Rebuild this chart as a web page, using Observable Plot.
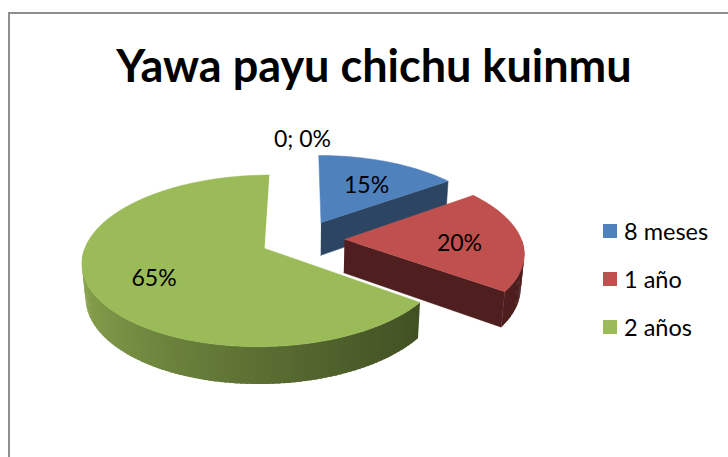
<!DOCTYPE html>
<html><head><meta charset="utf-8">
<script src="https://cdn.jsdelivr.net/npm/d3@7"></script>
<script src="https://cdn.jsdelivr.net/npm/@observablehq/plot@0.6"></script>
<style>
html,body{margin:0;padding:0;background:#fff;}
body{width:728px;height:457px;overflow:hidden;position:relative;font-family:Lato,"Open Sans",sans-serif;}
#frame{position:absolute;left:8px;top:12px;width:780px;height:500px;border:2px solid #8e8e8e;box-sizing:border-box;}
#title{position:relative;height:110px;box-sizing:border-box;padding-top:40px;padding-left:20px;text-align:center;font-weight:bold;font-size:45px;line-height:50px;color:#000;}
#chart{position:relative;}
#legend{position:absolute;left:603px;top:216px;display:flex;flex-direction:column;gap:18px;}
.item{display:flex;align-items:center;height:30px;font-size:23.5px;color:#000;}
.sw{width:14px;height:14px;margin-right:7px;}
</style></head>
<body>
<div id="frame"></div>
<div id="title">Yawa payu chichu kuinmu</div>
<div id="chart"></div>
<div id="legend"></div>
<script>
// ---- data ----
const categories = ["8 meses", "1 año", "2 años", "0"];
const values = [15, 20, 65, 0];
const legendCategories = ["8 meses", "1 año", "2 años"];
const topColors = ["#4F81BD", "#C0504D", "#9BBB59", "#8064A2"];
const sideLight = ["#3d6390", "#8a3735", "#8aa64f", "#5f4a7a"];
const sideDark = ["#27405f", "#4b1d1d", "#3c4a20", "#3a2c4b"];
const faceColors = ["#2c4563", "#4f1f1f", "#4a5c28", "#3a2c4b"];

// ---- 3D pie geometry ----
const W = 728, H = 347;
const S = 177;            // px per unit radius
const Cx = 302, Cy = 129; // pie centre in svg px
const sa = 0.46, ca = Math.sqrt(1 - sa * sa);
const D = 6.2, h = 0.215, ex = 0.237;
const rad = d => d * Math.PI / 180;
function proj(X, Z, Y) {
  const dz = Z * ca + Y * sa;
  const p = D / (D - dz);
  return [X * p, (Z * sa - Y * ca) * p];
}
const total = d3.sum(values);
let acc = 0;
const slices = values.map((v, i) => {
  const a0 = acc / total * 360;
  acc += v;
  const a1 = acc / total * 360;
  const mid = (a0 + a1) / 2;
  return {i, v, a0, a1, mid, ox: ex * Math.sin(rad(mid)), oz: -ex * Math.cos(rad(mid))};
});

const rows = [];
let pid = 0;
function poly(pts, color, line) {
  const id = pid++;
  for (const [u, v] of pts) rows.push({id, u, v, color, line});
}
const pt = (s, r, th, Y) => proj(s.ox + r * Math.sin(rad(th)), s.oz - r * Math.cos(rad(th)), Y);

const drawn = slices.filter(s => s.v > 0).sort((a, b) => a.oz - b.oz);
for (const s of drawn) {
  // radial faces
  if (Math.sin(rad(s.a1)) > 1e-6) {
    poly([pt(s, 0, s.a1, 0), pt(s, 1, s.a1, 0), pt(s, 1, s.a1, -h), pt(s, 0, s.a1, -h)], faceColors[s.i], faceColors[s.i]);
  }
  if (Math.sin(rad(s.a0)) < -1e-6) {
    poly([pt(s, 0, s.a0, 0), pt(s, 1, s.a0, 0), pt(s, 1, s.a0, -h), pt(s, 0, s.a0, -h)], faceColors[s.i], faceColors[s.i]);
  }
  // outer curved side (front half), shaded light (left) to dark (right)
  const b0 = Math.max(s.a0, 90), b1 = Math.min(s.a1, 270);
  if (b1 > b0) {
    const n = Math.ceil((b1 - b0) / 1.5);
    const interp = d3.interpolateRgb(sideLight[s.i], sideDark[s.i]);
    for (let k = 0; k < n; k++) {
      const t0 = b0 + (b1 - b0) * k / n;
      const t1 = Math.min(b1, b0 + (b1 - b0) * (k + 1) / n + 0.8);
      const tm = b0 + (b1 - b0) * (k + 0.5) / n;
      const x = Math.sin(rad(tm));               // -1 (left) .. 1 (right)
      const t = Math.pow(Math.min(1, Math.max(0, (x + 1) / 2)), 0.75);
      const c = d3.color(interp(t)).formatHex();
      poly([pt(s, 1, t1, 0), pt(s, 1, t0, 0), pt(s, 1, t0, -h), pt(s, 1, t1, -h)], c, "none");
    }
  }
  // top face
  const n = Math.ceil((s.a1 - s.a0) / 1);
  const pts = [pt(s, 0, s.a0, 0)];
  for (let k = 0; k <= n; k++) pts.push(pt(s, 1, s.a0 + (s.a1 - s.a0) * k / n, 0));
  poly(pts, topColors[s.i], topColors[s.i]);
}

// labels
const labels = slices.map(s => {
  const r = s.v === 0 ? 1.33 : 0.65;
  const [u, v] = pt(s, r, s.mid, 0);
  const pct = Math.round(s.v / total * 100);
  return {u, v, text: s.v === 0 ? `${s.v}; ${pct}%` : `${pct}%`};
});

const chart = Plot.plot({
  width: W, height: H,
  margin: 0,
  x: {domain: [-Cx / S, (W - Cx) / S], range: [0, W], axis: null},
  y: {domain: [-Cy / S, (H - Cy) / S], range: [0, H], axis: null},
  color: {type: "identity"},
  style: {fontFamily: "Lato, 'Open Sans', sans-serif", background: "transparent", overflow: "visible"},
  marks: [
    Plot.line(rows, {x: "u", y: "v", z: "id", fill: "color", stroke: "line", strokeWidth: 0.5, curve: "linear"}),
    Plot.text(labels, {x: "u", y: "v", text: "text", fontSize: 23, fill: "#000", dy: 4})
  ]
});
document.getElementById("chart").appendChild(chart);

const legend = document.getElementById("legend");
legendCategories.forEach(c => {
  const i = categories.indexOf(c);
  const it = document.createElement("div");
  it.className = "item";
  const sw = document.createElement("div");
  sw.className = "sw";
  sw.style.background = topColors[i];
  it.appendChild(sw);
  it.appendChild(document.createTextNode(c));
  legend.appendChild(it);
});
</script>
</body></html>
